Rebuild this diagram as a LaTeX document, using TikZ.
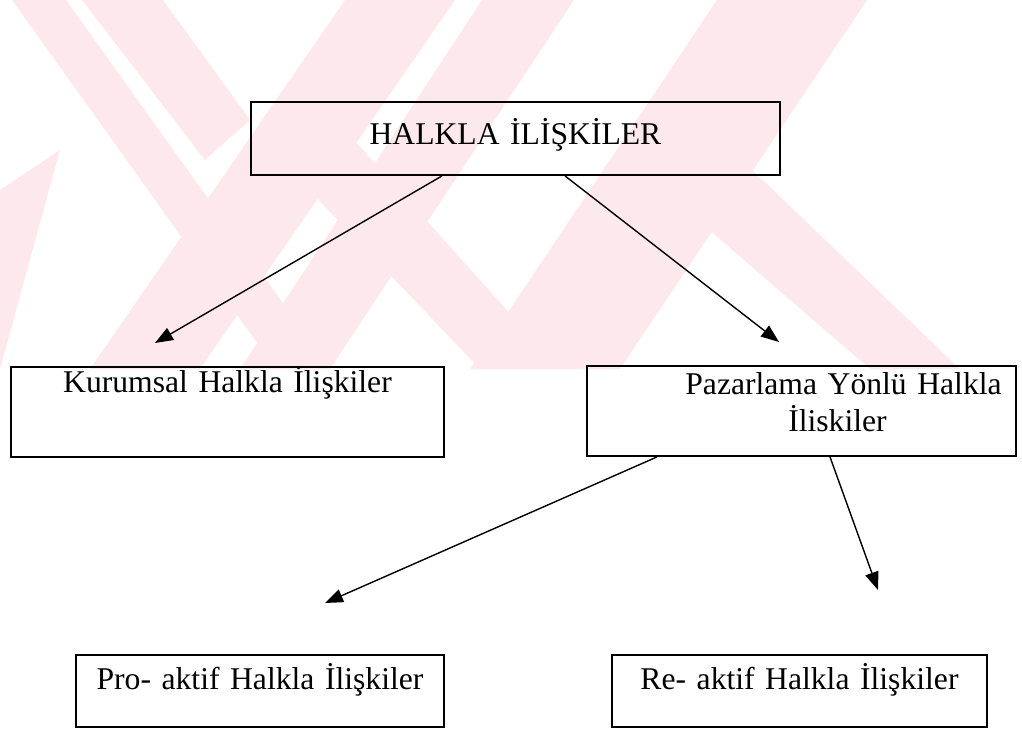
\documentclass[tikz,border=0pt]{standalone}
\usepackage{fontspec}
\setmainfont{Liberation Serif}
\definecolor{YOKpink}{HTML}{FDE9ED}
\usetikzlibrary{arrows.meta,calc,positioning}

\tikzset{
  kutu/.style={draw,line width=1.3pt,inner sep=0pt,align=center,
    font=\fontsize{22.5}{26.2}\selectfont},
  ok/.style={-{Triangle[length=0.45cm,width=0.34cm]},line width=1pt}
}

\begin{document}
\begin{tikzpicture}[x=0.025cm,y=-0.025cm]
  \useasboundingbox (0,0) rectangle (1022,730);
  % faint watermark behind the upper half
  \begin{scope}
    \clip (0,0) rectangle (1022,369);
    \fill[YOKpink] (12,0) -- (66,0) -- (330,369) -- (276,369) -- cycle;
    \fill[YOKpink] (82,0) -- (163,0) -- (250,120) -- (205,160) -- cycle;
    \fill[YOKpink] (345,0) -- (455,0) -- (200,369) -- (90,369) -- cycle;
    \fill[YOKpink] (482,0) -- (574,0) -- (330,369) -- (240,369) -- cycle;
    \fill[YOKpink] (290,170) -- (345,130) -- (560,369) -- (480,369) -- cycle;
    \fill[YOKpink] (717,0) -- (867,0) -- (620,369) -- (470,369) -- cycle;
    \fill[YOKpink] (640,170) -- (700,120) -- (960,369) -- (870,369) -- cycle;
    \fill[YOKpink] (0,190) -- (60,150) -- (0,369) -- cycle;
  \end{scope}

  \node[kutu,text width=13.225cm,text height=1.05cm,text depth=0.775cm] (halkla) at (515.5,138.5) {HALKLA İLİŞKİLER};
  \node[kutu,text width=10.825cm,text height=0.65cm,text depth=1.6cm] (kurumsal) at (227.5,412) {Kurumsal Halkla İlişkiler};
  \node[kutu,text width=10.725cm,text height=0.725cm,text depth=1.525cm] (pazarlama) at (801.5,411)
    {\hspace*{2.1cm}Pazarlama Yönlü Halkla\\\hspace*{1.8cm}İliskiler};
  \node[kutu,text width=9.2cm,text height=0.85cm,text depth=0.95cm] (proaktif) at (260,691) {Pro- aktif Halkla İlişkiler};
  \node[kutu,text width=9.375cm,text height=0.85cm,text depth=0.95cm] (reaktif) at (799.5,691) {Re- aktif Halkla İlişkiler};

  \coordinate (kUc) at (155,343);
  \coordinate (pUc) at (779,342);
  \coordinate (proUc) at (325,603);
  \coordinate (reUc) at (878,590);

  \draw[ok] ($(halkla.south)+(-73.5,0)$) -- (kUc);
  \draw[ok] ($(halkla.south)+(49.5,0)$) -- (pUc);
  \draw[ok] ($(pazarlama.south)+(-144.5,0)$) -- (proUc);
  \draw[ok] ($(pazarlama.south)+(28.5,0)$) -- (reUc);
\end{tikzpicture}
\end{document}
